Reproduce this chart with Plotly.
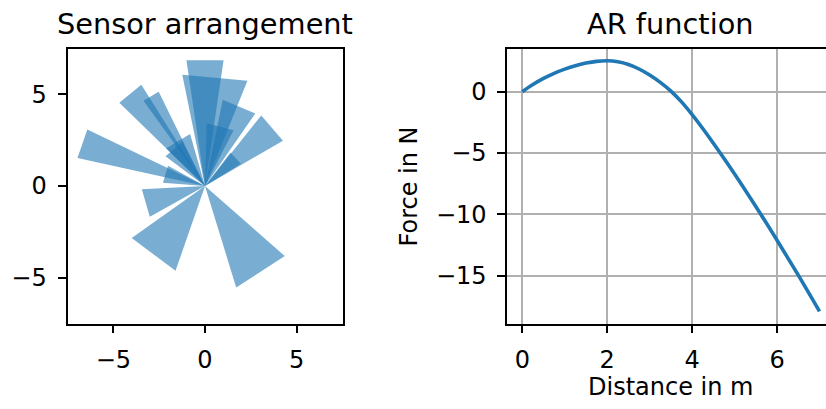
import numpy as np
import plotly.graph_objects as go

# Sensor layout: heading (deg), field of view (deg), range (m), all from the origin
sensor_heading = [90.0, 84.8, 129.0, 121.0, 161.0, 163.4, 196.1, 233.1, 302.9,
                  40.8, 66.8, 75.7, 42.3, 121.0, 130.0]
sensor_fov = [16.8, 33.5, 13.6, 9.7, 13.3, 24.2, 26.2, 35.5, 31.6,
              21.2, 23.1, 25.6, 21.0, 30.0, 26.0]
sensor_range = [6.93, 6.19, 6.52, 5.73, 7.12, 2.30, 3.45, 4.90, 5.79,
                4.92, 4.81, 3.42, 2.30, 2.95, 2.70]

# Attraction-repulsion force over distance
distance = [0.0, 0.25, 0.5, 0.75, 1.0, 1.25, 1.5, 1.75, 2.0, 2.25, 2.5, 2.75,
            3.0, 3.25, 3.5, 3.75, 4.0, 4.25, 4.5, 5.0, 5.5, 6.0, 6.5, 7.0]
force = [0.0, 0.58, 1.08, 1.5, 1.84, 2.12, 2.33, 2.47, 2.52, 2.44, 2.22, 1.85,
         1.36, 0.76, 0.05, -0.83, -1.87, -3.0, -4.2, -6.7, -9.35, -12.1, -14.95, -17.9]

BLUE = "#1f77b4"
WEDGE_FILL = "rgba(31,119,180,0.6)"
FONT = "DejaVu Sans"
W, H = 826, 409

fig = go.Figure()

for hd, fov, rng in zip(sensor_heading, sensor_fov, sensor_range):
    a0 = np.deg2rad(hd - fov / 2)
    a1 = np.deg2rad(hd + fov / 2)
    xs = [0.0, rng * np.cos(a0), rng * np.cos(a1), 0.0]
    ys = [0.0, rng * np.sin(a0), rng * np.sin(a1), 0.0]
    fig.add_trace(go.Scatter(x=xs, y=ys, mode="lines", fill="toself",
                             fillcolor=WEDGE_FILL, line=dict(width=0),
                             hoverinfo="skip", showlegend=False,
                             xaxis="x", yaxis="y"))

fig.add_trace(go.Scatter(x=distance, y=force, mode="lines",
                         line=dict(color=BLUE, width=3.6, shape="spline", smoothing=1.0),
                         showlegend=False, xaxis="x2", yaxis="y2"))

top_px, bot_px = 48.5, 323.5
ydom = [(H - bot_px) / H, (H - top_px) / H]

common = dict(showline=True, linecolor="black", linewidth=1.9, ticks="outside",
              ticklen=8, tickwidth=1.9, tickcolor="black", zeroline=False,
              tickfont=dict(family=FONT, size=24, color="black"),
              ticklabelstandoff=6)

fig.update_layout(
    width=W, height=H,
    margin=dict(l=0, r=0, t=0, b=0),
    paper_bgcolor="white", plot_bgcolor="white",
    font=dict(family=FONT, color="black"),
    xaxis=dict(domain=[67.5 / W, 342.5 / W], range=[-7.5, 7.5], anchor="y",
               tickvals=[-5, 0, 5], mirror=True, showgrid=False, **common),
    yaxis=dict(domain=ydom, range=[-7.5, 7.5], anchor="x",
               tickvals=[-5, 0, 5], mirror=True, showgrid=False, **common),
    xaxis2=dict(domain=[507.3 / W, 1.0], range=[-0.353, 7.153], anchor="y2",
                tickvals=[0, 2, 4, 6], mirror=True, showgrid=True,
                gridcolor="#b0b0b0", gridwidth=1.9, **common),
    yaxis2=dict(domain=ydom, range=[-18.89, 3.52], anchor="x2",
                tickvals=[0, -5, -10, -15], mirror=False, showgrid=True,
                gridcolor="#b0b0b0", gridwidth=1.9, **common),
)

annotations = [
    dict(text="Sensor arrangement", x=205 / W, y=(H - 24) / H, font_size=28.8),
    dict(text="AR function", x=670.5 / W, y=(H - 24) / H, font_size=28.8),
    dict(text="Distance in m", x=670.5 / W, y=(H - 387) / H, font_size=24),
    dict(text="Force in N", x=408 / W, y=(H - 186.5) / H, font_size=24, textangle=-90),
]
for a in annotations:
    fig.add_annotation(xref="paper", yref="paper", showarrow=False,
                       xanchor="center", yanchor="middle",
                       font=dict(family=FONT, color="black", size=a.pop("font_size")), **a)

fig.write_html("out.html")
